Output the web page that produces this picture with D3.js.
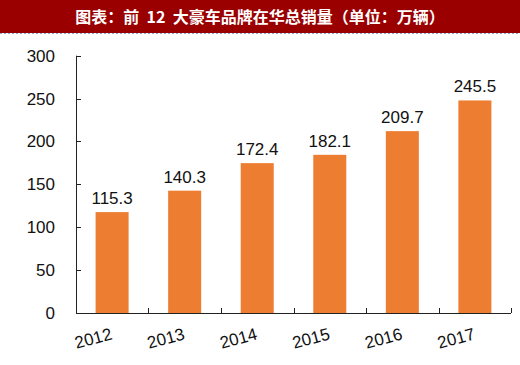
<!DOCTYPE html>
<html><head><meta charset="utf-8">
<script src="https://cdn.jsdelivr.net/npm/d3@7"></script>
<style>
html,body{margin:0;padding:0;background:#fff;}
svg{display:block;}
</style>
</head><body>
<div id="chart"></div>
<script>
const title = "图表：前  12  大豪车品牌在华总销量（单位：万辆）";
const categories = ["2012","2013","2014","2015","2016","2017"];
const values = [115.3,140.3,172.4,182.1,209.7,245.5];
const yTicks = [0,50,100,150,200,250,300];

const W = 520, H = 365;
const svg = d3.select("#chart").append("svg").attr("width",W).attr("height",H);

svg.append("rect").attr("x",0).attr("y",0).attr("width",W).attr("height",33).attr("fill","#9a0000");
svg.append("line").attr("x1",0).attr("x2",W).attr("y1",33.5).attr("y2",33.5)
  .attr("stroke","#8aa6d6").attr("stroke-width",1).attr("stroke-dasharray","2,2");
svg.append("text").attr("x",260).attr("y",22.5).attr("text-anchor","middle")
  .style("white-space","pre")
  .attr("fill","#fff").attr("font-family","'Noto Sans CJK SC', sans-serif")
  .attr("font-weight","bold").attr("font-size",16).text(title);

const x0 = 76, x1 = 511, yb = 313, yt = 55.7;
const x = d3.scaleBand().domain(categories).range([x0,x1]).paddingInner(0.545).paddingOuter(0.27);
const y = d3.scaleLinear().domain([0,300]).range([yb,yt]);

const font = "'Liberation Sans', Arial, sans-serif";

// bars
svg.append("g").selectAll("rect").data(values).join("rect")
  .attr("x",(d,i)=>x(categories[i])).attr("width",x.bandwidth())
  .attr("y",d=>y(d)-2).attr("height",d=>yb-y(d)+2).attr("fill","#ED7D31");

// value labels
svg.append("g").selectAll("text").data(values).join("text")
  .attr("x",(d,i)=>x(categories[i])+x.bandwidth()/2).attr("y",d=>y(d)-10)
  .attr("text-anchor","middle").attr("font-family",font).attr("font-size",17)
  .attr("fill","#111").text(d=>d.toFixed(1));

// y axis
svg.append("line").attr("x1",x0+0.5).attr("x2",x0+0.5).attr("y1",yt).attr("y2",yb).attr("stroke","#222");
svg.append("g").selectAll("line").data(yTicks).join("line")
  .attr("x1",x0).attr("x2",x0+5).attr("y1",d=>Math.round(y(d))+0.5).attr("y2",d=>Math.round(y(d))+0.5)
  .attr("stroke","#222");
svg.append("g").selectAll("text").data(yTicks).join("text")
  .attr("x",55).attr("y",d=>y(d)+6).attr("text-anchor","end")
  .attr("font-family",font).attr("font-size",17).attr("fill","#111").text(d=>d);

// x axis
const bounds = categories.map(c=>x(c)+x.bandwidth()/2 + x.step()/2);
svg.append("line").attr("x1",x0).attr("x2",x1).attr("y1",yb+0.5).attr("y2",yb+0.5).attr("stroke","#222");
svg.append("g").selectAll("line").data(bounds).join("line")
  .attr("x1",d=>Math.round(d)+0.5).attr("x2",d=>Math.round(d)+0.5)
  .attr("y1",yb).attr("y2",yb-5).attr("stroke","#222");
svg.append("g").selectAll("text").data(categories).join("text")
  .attr("transform",c=>`translate(${x(c)+x.bandwidth()/2+1},${yb+26}) rotate(-15)`)
  .attr("text-anchor","end").attr("font-family",font).attr("font-size",17)
  .attr("fill","#111").text(c=>c);
</script>
</body></html>
